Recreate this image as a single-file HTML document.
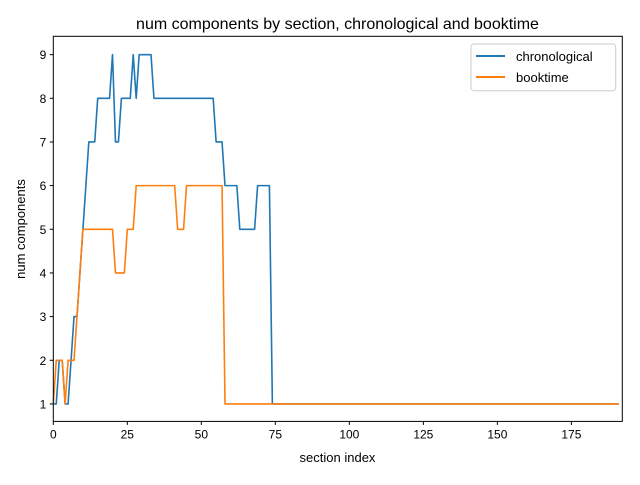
<!DOCTYPE html>
<html><head><meta charset="utf-8"><style>
body{margin:0;background:#fff;}
svg text{font-family:"Liberation Sans","DejaVu Sans",sans-serif;}
</style></head><body>
<svg id="chart" width="640" height="480" xmlns="http://www.w3.org/2000/svg">
<rect width="640" height="480" fill="#fff"/>
<text x="337.5" y="29" text-anchor="middle" font-size="16">num components by section, chronological and booktime</text>
<g id="plot"></g>
<rect x="53.3" y="36.3" width="569" height="385.1" fill="none" stroke="#000" stroke-width="1"/>
<text x="337.5" y="462" text-anchor="middle" font-size="13">section index</text>
<text transform="translate(25,229) rotate(-90)" text-anchor="middle" font-size="13">num components</text>
<g>
<rect x="471" y="44" width="144.7" height="46.7" rx="3" fill="#fff" stroke="#ccc"/>
<line x1="476" y1="56" x2="505" y2="56" stroke="#1f77b4" stroke-width="2"/>
<text x="516" y="61" font-size="13">chronological</text>
<line x1="476" y1="77" x2="505" y2="77" stroke="#ff7f0e" stroke-width="2"/>
<text x="516" y="82" font-size="13">booktime</text>
</g>
</svg>
<script>
const xTicks=[0,25,50,75,100,125,150,175];
const yTicks=[1,2,3,4,5,6,7,8,9];
const chronoHead=[1,1,2,2,1,1,2,3,3,4,5,6,7,7,7,8,8,8,8,8,9,7,7,8,8,8,8,9,8,9,9,9,9,9,8,8,8,8,8,8,8,8,8,8,8,8,8,8,8,8,8,8,8,8,8,7,7,7,6,6,6,6,6,5,5,5,5,5,5,6,6,6,6,6,1];
const bookHead=[1,2,2,2,1,2,2,2,3,4,5,5,5,5,5,5,5,5,5,5,5,4,4,4,4,5,5,5,6,6,6,6,6,6,6,6,6,6,6,6,6,6,5,5,5,6,6,6,6,6,6,6,6,6,6,6,6,6,1];
const nPoints=192;
const chronological=chronoHead.concat(Array(nPoints-chronoHead.length).fill(1));
const booktime=bookHead.concat(Array(nPoints-bookHead.length).fill(1));
const X0=53.3,X1=622.3,Y0=421.4,Y1=36.3,xmin=0,xmax=192.2,ymin=0.6,ymax=9.42;
function sx(v){return X0+(v-xmin)/(xmax-xmin)*(X1-X0);}
function sy(v){return Y0-(v-ymin)/(ymax-ymin)*(Y0-Y1);}
const NS="http://www.w3.org/2000/svg";
const g=document.getElementById('plot');
function mk(t,a){const e=document.createElementNS(NS,t);for(const k in a)e.setAttribute(k,a[k]);return e;}
xTicks.forEach(v=>{
  const l=mk('line',{x1:sx(v),x2:sx(v),y1:Y0,y2:Y0+3.5,stroke:'#000'});
  
  
  g.appendChild(l);
  const t=mk('text',{x:sx(v),y:Y0+17,'text-anchor':'middle','font-size':'12'});
  t.textContent=v;
  
  
  g.appendChild(t);
});
yTicks.forEach(v=>{
  const l=mk('line',{x1:X0-3.5,x2:X0,y1:sy(v),y2:sy(v),stroke:'#000'});
  
  
  g.appendChild(l);
  const t=mk('text',{x:X0-7,y:sy(v)+4.5,'text-anchor':'end','font-size':'12'});
  t.textContent=v;
  
  
  g.appendChild(t);
});
function series(data,color,name){
  const p=mk('polyline',{points:data.map((v,i)=>sx(i)+','+sy(v)).join(' '),fill:'none',stroke:color,'stroke-width':'1.6','stroke-linejoin':'round'});
  
  
  g.appendChild(p);
}
series(chronological,'#1f77b4','chronological-line');
series(booktime,'#ff7f0e','booktime-line');
</script>
</body></html>
